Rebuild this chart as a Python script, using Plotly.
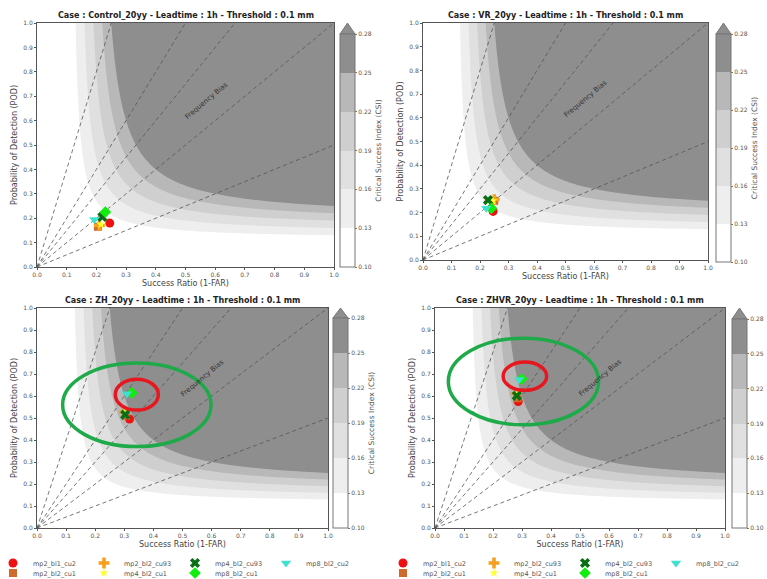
import numpy as np
import plotly.graph_objects as go

W, H = 767, 579

# ---------------- data ----------------
series_names = ["mp2_bl1_cu2", "mp2_bl2_cu1", "mp2_bl2_cu93", "mp4_bl2_cu1",
                "mp4_bl2_cu93", "mp8_bl2_cu1", "mp8_bl2_cu2"]
series_colors = ["#ee1111", "#cd6a2c", "#f5a020", "#ffff30", "#0a6e14", "#10ee10", "#40e0d0"]
series_symbols = ["circle", "square", "cross", "star", "x", "diamond", "triangle-down"]
series_sizes = [9, 8, 9, 7, 9, 9, 9]

case_titles = [
    "Case : Control_20yy - Leadtime : 1h - Threshold : 0.1 mm",
    "Case : VR_20yy - Leadtime : 1h - Threshold : 0.1 mm",
    "Case : ZH_20yy - Leadtime : 1h - Threshold : 0.1 mm",
    "Case : ZHVR_20yy - Leadtime : 1h - Threshold : 0.1 mm",
]

# success ratio / POD per series (order = series_names)
control_sr = [0.245, 0.205, 0.210, 0.215, 0.220, 0.230, 0.193]
control_pod = [0.180, 0.165, 0.170, 0.175, 0.205, 0.225, 0.195]
vr_sr = [0.246, 0.250, 0.250, 0.245, 0.228, 0.240, 0.222]
vr_pod = [0.205, 0.250, 0.255, 0.250, 0.253, 0.218, 0.218]
zh_sr = [0.318, 0.305, 0.300, 0.300, 0.303, 0.326, 0.309]
zh_pod = [0.495, 0.510, 0.526, 0.520, 0.515, 0.614, 0.610]
zhvr_sr = [0.287, 0.285, 0.280, 0.282, 0.282, 0.299, 0.290]
zhvr_pod = [0.575, 0.590, 0.610, 0.605, 0.601, 0.677, 0.675]

bias_values = [0.5, 1.0, 1.5, 2.0, 4.0]
csi_levels = [0.10, 0.13, 0.16, 0.19, 0.22, 0.25, 0.28]
axis_ticks = [0.0, 0.1, 0.2, 0.3, 0.4, 0.5, 0.6, 0.7, 0.8, 0.9, 1.0]

# highlight ellipses (center SR, center POD, half-width, half-height)
zh_red_ellipse = [0.343, 0.606, 0.074, 0.070]
zh_green_ellipse = [0.343, 0.560, 0.255, 0.190]
zhvr_red_ellipse = [0.310, 0.690, 0.075, 0.064]
zhvr_green_ellipse = [0.305, 0.666, 0.259, 0.197]

# fill colours of the CSI bands: <0.10, 0.10-0.13, ..., 0.25-0.28, >0.28
band_colors = ["#ffffff", "#ffffff", "#eeeeee", "#e0e0e0", "#cfcfcf", "#b8b8b8", "#8e8e8e", "#8e8e8e"]

# ---------------- layout geometry (pixels) ----------------
panels = [
    dict(plot=(37, 334, 23, 267), cb=(340, 34, 267, 23), cbtitle=True),
    dict(plot=(423, 708, 23, 260), cb=(716, 34, 262, 23), cbtitle=True),
    dict(plot=(37, 328, 308, 528), cb=(333, 318, 528, 308), cbtitle=True),
    dict(plot=(435, 725, 308, 528), cb=(732, 319, 528, 308), cbtitle=False),
]
CB_T = 15

sr_list = [control_sr, vr_sr, zh_sr, zhvr_sr]
pod_list = [control_pod, vr_pod, zh_pod, zhvr_pod]

def fx(p):
    return p / W

def fy(p):
    return 1 - p / H

gx = np.linspace(0.002, 1.0, 300)
gy = np.linspace(0.002, 1.0, 300)
SR, POD = np.meshgrid(gx, gy)
CSI = 1.0 / (1.0 / SR + 1.0 / POD - 1.0)

n = len(band_colors)
contour_scale = [[i / (n - 1), c] for i, c in enumerate(band_colors)]
# stepped colour scale for the colorbar (0.10 .. 0.28)
bar_colors = band_colors[1:-1]
nb = len(bar_colors)
bar_scale = []
for i, c in enumerate(bar_colors):
    bar_scale.append([i / nb, c])
    bar_scale.append([(i + 1) / nb, c])

fig = go.Figure()
shapes = []
annotations = []
layout_axes = {}

legend_map = {0: "legend", 2: "legend", 4: "legend", 6: "legend",
              1: "legend2", 3: "legend2", 5: "legend2"}
legend_map_r = {0: "legend3", 2: "legend3", 4: "legend3", 6: "legend3",
                1: "legend4", 3: "legend4", 5: "legend4"}

for k, pan in enumerate(panels):
    sfx = "" if k == 0 else str(k + 1)
    xa, ya = "x" + sfx, "y" + sfx
    x0, x1, y0, y1 = pan["plot"]
    cbx, cbtop, cbbot, cbarrow = pan["cb"]

    fig.add_trace(go.Contour(
        x=gx, y=gy, z=CSI, xaxis=xa, yaxis=ya,
        contours=dict(start=csi_levels[0], end=csi_levels[-1], size=0.03,
                      coloring="fill", showlines=False),
        line=dict(width=0), colorscale=contour_scale, hoverinfo="skip",
        showscale=False))

    cb_title = dict(text="Critical Success Index (CSI)" if pan["cbtitle"] else "", side="right",
                    font=dict(size=7.5, color="#555", family="DejaVu Sans"))
    # colorbar (via a hidden marker trace with a stepped scale)
    fig.add_trace(go.Scatter(
        x=[None], y=[None], xaxis=xa, yaxis=ya, mode="markers", showlegend=False,
        hoverinfo="skip",
        marker=dict(color=[csi_levels[0]], cmin=csi_levels[0], cmax=csi_levels[-1],
                    colorscale=bar_scale, showscale=True,
                    colorbar=dict(
                        x=fx(cbx), xanchor="left", y=fy(cbbot), yanchor="bottom",
                        len=(cbbot - cbtop) / H, lenmode="fraction",
                        thickness=CB_T, thicknessmode="pixels", xpad=0, ypad=0,
                        outlinewidth=1, outlinecolor="#777",
                        tickvals=csi_levels, ticktext=["%.2f" % v for v in csi_levels],
                        ticks="outside", ticklen=2, tickcolor="#777",
                        tickfont=dict(size=6, color="#555", family="DejaVu Sans"),
                        title=cb_title,
                    ))))
    # extension arrow above the colorbar
    ax0, ax1 = fx(cbx), fx(cbx + CB_T)
    shapes.append(dict(type="path", xref="paper", yref="paper",
                       path=f"M {ax0},{fy(cbtop)} L {ax1},{fy(cbtop)} L {(ax0+ax1)/2},{fy(cbarrow)} Z",
                       fillcolor=band_colors[-1], line=dict(color="#777", width=1)))

    # frequency bias lines
    for b in bias_values:
        fig.add_trace(go.Scatter(
            x=[0, min(1.0, 1.0 / b)], y=[0, min(1.0, b)], xaxis=xa, yaxis=ya,
            mode="lines", line=dict(color="#555", width=0.8, dash="4px,3px"),
            showlegend=False, hoverinfo="skip"))

    # series markers
    for i, name in enumerate(series_names):
        if k == 2:
            leg, show = legend_map[i], True
        elif k == 3:
            leg, show = legend_map_r[i], True
        else:
            leg, show = "legend", False
        fig.add_trace(go.Scatter(
            x=[sr_list[k][i]], y=[pod_list[k][i]], xaxis=xa, yaxis=ya,
            mode="markers", name=name, legend=leg, showlegend=show,
            marker=dict(color=series_colors[i], symbol=series_symbols[i],
                        size=series_sizes[i], line=dict(width=0))))

    layout_axes["xaxis" + sfx] = dict(
        domain=[fx(x0), fx(x1)], range=[0, 1], anchor=ya,
        tickvals=axis_ticks, tickformat=".1f", ticks="outside", ticklen=2,
        tickcolor="#555", tickfont=dict(size=6, color="#555"),
        showline=True, mirror=True, linecolor="#555", linewidth=1,
        showgrid=False, zeroline=False,
        title=dict(text="Success Ratio (1-FAR)", font=dict(size=8, color="#444"), standoff=3))
    layout_axes["yaxis" + sfx] = dict(
        domain=[fy(y1), fy(y0)], range=[0, 1], anchor=xa,
        tickvals=axis_ticks, tickformat=".1f", ticks="outside", ticklen=2,
        tickcolor="#555", tickfont=dict(size=6, color="#555"),
        showline=True, mirror=True, linecolor="#555", linewidth=1,
        showgrid=False, zeroline=False,
        title=dict(text="Probability of Detection (POD)", font=dict(size=8, color="#444"), standoff=4))

    annotations.append(dict(text="<b>" + case_titles[k] + "</b>", xref="paper", yref="paper",
                            x=fx((x0 + x1) / 2), y=fy(y0) + 1 / H, xanchor="center", yanchor="bottom",
                            showarrow=False, font=dict(size=8, color="#222")))
    annotations.append(dict(text="Frequency Bias", xref=xa, yref=ya, x=0.57, y=0.68,
                            textangle=-40, showarrow=False, font=dict(size=7, color="#333")))

for ell, color, xr, yr in [
        (zh_red_ellipse, "#e8161e", "x3", "y3"),
        (zh_green_ellipse, "#1faa4a", "x3", "y3"),
        (zhvr_red_ellipse, "#e8161e", "x4", "y4"),
        (zhvr_green_ellipse, "#1faa4a", "x4", "y4")]:
    cx, cy, rx, ry = ell
    shapes.append(dict(type="circle", xref=xr, yref=yr, x0=cx - rx, x1=cx + rx,
                       y0=cy - ry, y1=cy + ry, line=dict(color=color, width=3.5)))

def legend_cfg(xp, yp):
    return dict(orientation="h", x=fx(xp), y=fy(yp), xanchor="left", yanchor="middle",
                entrywidth=46, entrywidthmode="pixels", bgcolor="rgba(0,0,0,0)",
                font=dict(size=6.5, color="#555"), itemsizing="trace",
                tracegroupgap=0, borderwidth=0)

fig.update_layout(
    width=W, height=H, margin=dict(l=0, r=0, t=0, b=0, autoexpand=False),
    paper_bgcolor="white", plot_bgcolor="white",
    font=dict(family="DejaVu Sans"),
    shapes=shapes, annotations=annotations,
    legend=legend_cfg(-7, 563), legend2=legend_cfg(-7, 573),
    legend3=legend_cfg(383, 563), legend4=legend_cfg(383, 573),
    **layout_axes,
)

fig.write_html("out.html", config={"displayModeBar": False},
               post_script="document.body.style.margin='0px';")
